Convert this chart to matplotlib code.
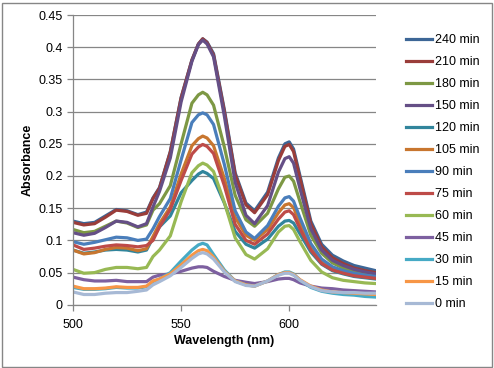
import matplotlib
matplotlib.use("Agg")
import matplotlib.pyplot as plt
from matplotlib.patches import Rectangle

plt.rcParams["font.family"] = ["Liberation Sans", "DejaVu Sans"]

wavelength = [500, 505, 510, 515, 520, 525, 530, 534, 537, 540, 545, 550, 555, 558, 560, 562, 565,
              570, 575, 580, 584, 590, 595, 598, 600, 602, 605, 610, 615, 620, 625, 630, 635, 640]

abs_240 = [.130, .126, .128, .138, .148, .146, .140, .144, .166, .182, .238, .322, .380, .405, .413, .408, .390,
           .303, .205, .158, .146, .175, .228, .250, .253, .242, .200, .130, .094, .077, .068, .061, .057, .053]
abs_210 = [.128, .124, .126, .136, .147, .145, .139, .142, .165, .181, .237, .321, .380, .405, .413, .407, .388,
           .300, .202, .155, .143, .171, .224, .246, .249, .238, .196, .126, .090, .073, .064, .057, .053, .050]
abs_180 = [.117, .112, .114, .122, .130, .127, .120, .124, .147, .157, .185, .250, .313, .326, .330, .326, .310,
           .245, .170, .132, .122, .142, .180, .198, .200, .192, .160, .108, .080, .065, .057, .051, .048, .045]
abs_150 = [.112, .108, .111, .120, .130, .128, .121, .126, .152, .176, .228, .315, .378, .404, .411, .405, .385,
           .293, .190, .139, .126, .154, .206, .227, .230, .220, .180, .118, .085, .069, .061, .055, .051, .048]
abs_120 = [.085, .080, .082, .085, .086, .085, .082, .085, .104, .121, .138, .174, .193, .203, .207, .204, .196,
           .158, .114, .094, .088, .102, .122, .130, .131, .127, .110, .082, .063, .053, .048, .044, .042, .040]
abs_105 = [.085, .079, .081, .086, .089, .088, .084, .087, .106, .126, .152, .203, .247, .258, .262, .259, .247,
           .196, .136, .108, .100, .117, .143, .155, .157, .151, .127, .090, .068, .057, .051, .047, .044, .042]
abs_90 = [.098, .094, .097, .101, .105, .104, .100, .102, .118, .137, .165, .225, .283, .295, .298, .295, .280,
          .218, .146, .113, .103, .123, .153, .166, .168, .161, .135, .095, .071, .059, .053, .049, .046, .044]
abs_75 = [.093, .086, .088, .091, .093, .092, .090, .092, .100, .121, .148, .193, .234, .245, .249, .246, .235,
          .185, .125, .100, .094, .110, .133, .144, .146, .140, .118, .085, .064, .054, .049, .045, .043, .041]
abs_60 = [.055, .049, .050, .055, .058, .058, .056, .058, .075, .085, .107, .160, .205, .216, .220, .217, .207,
          .159, .104, .078, .071, .087, .113, .122, .123, .117, .098, .069, .051, .042, .038, .036, .034, .033]
abs_45 = [.043, .039, .037, .037, .038, .036, .036, .036, .043, .046, .048, .052, .057, .059, .059, .058, .052,
          .044, .038, .035, .033, .036, .040, .041, .041, .039, .034, .029, .026, .025, .023, .022, .021, .020]
abs_30 = [.027, .024, .024, .025, .027, .026, .026, .028, .036, .040, .050, .068, .085, .093, .0955, .093, .078,
          .054, .037, .031, .029, .037, .047, .051, .051, .048, .038, .027, .021, .018, .016, .015, .013, .012]
abs_15 = [.029, .025, .025, .026, .028, .027, .027, .029, .037, .040, .048, .062, .077, .084, .086, .084, .074,
          .052, .037, .031, .029, .037, .047, .050, .050, .047, .039, .029, .023, .020, .019, .018, .017, .016]
abs_0 = [.020, .016, .016, .018, .019, .019, .021, .023, .031, .036, .045, .058, .072, .079, .081, .079, .071,
         .051, .036, .030, .029, .037, .046, .049, .049, .046, .038, .028, .022, .020, .019, .019, .018, .018]

series_labels = ["240 min", "210 min", "180 min", "150 min", "120 min", "105 min", "90 min",
                 "75 min", "60 min", "45 min", "30 min", "15 min", "0 min"]
series_values = [abs_240, abs_210, abs_180, abs_150, abs_120, abs_105, abs_90,
                 abs_75, abs_60, abs_45, abs_30, abs_15, abs_0]
series_colors = ["#3D6696", "#9A3D3A", "#7D9844", "#654F86", "#31859C", "#C8762F", "#4A7EBB",
                 "#BE4B48", "#98B954", "#7D60A0", "#46AAC5", "#F79646", "#A7B9D5"]

y_ticks = [0, 0.05, 0.1, 0.15, 0.2, 0.25, 0.3, 0.35, 0.4, 0.45]
y_tick_labels = ["0", "0.05", "0.1", "0.15", "0.2", "0.25", "0.3", "0.35", "0.4", "0.45"]
x_ticks = [500, 550, 600]

fig = plt.figure(figsize=(4.94, 3.68), dpi=100)
ax = fig.add_axes([73 / 494, 1 - 304.8 / 368, 302.7 / 494, 289.8 / 368])

grid_col = "#868686"
for lab, vals, col in zip(series_labels, series_values, series_colors):
    ax.plot(wavelength, vals, color=col, lw=2.3, label=lab, solid_joinstyle="round")

ax.set_xlim(500, 640)
ax.set_ylim(0, 0.45)
ax.set_yticks(y_ticks)
ax.set_yticklabels(y_tick_labels)
ax.set_xticks(x_ticks)
ax.yaxis.grid(True, color=grid_col, lw=0.9)
ax.set_axisbelow(True)
for s in ["top", "right"]:
    ax.spines[s].set_visible(False)
for s in ["left", "bottom"]:
    ax.spines[s].set_color(grid_col)
    ax.spines[s].set_linewidth(0.9)
ax.tick_params(axis="both", colors=grid_col, labelcolor="black", labelsize=9,
               length=4, width=0.9, direction="out")
ax.tick_params(axis="x", pad=6)

ax.set_xlabel("Wavelength (nm)", fontsize=9, fontweight="bold", labelpad=3)
ax.set_ylabel("Absorbance", fontsize=9, fontweight="bold", labelpad=3)

fig.legend(loc="upper left", bbox_to_anchor=(401 / 494, 1 - 29 / 368), frameon=False,
           fontsize=9, handlelength=2.1, handletextpad=0.25, labelspacing=0.8,
           borderaxespad=0)

fig.patches.append(Rectangle((1.5 / 494, 1.5 / 368), 490 / 494, 364 / 368, transform=fig.transFigure,
                             fill=False, edgecolor=grid_col, lw=1.0))

fig.savefig("out.png", dpi=100)
